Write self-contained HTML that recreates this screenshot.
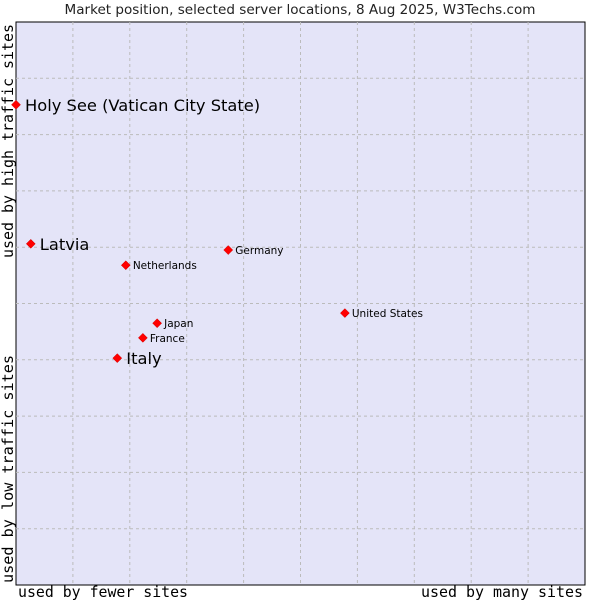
<!DOCTYPE html>
<html><head><meta charset="utf-8"><style>
body{margin:0;background:#fff;width:600px;height:600px;overflow:hidden}
svg{display:block}
</style></head><body>
<svg id="chart" width="600" height="600" xmlns="http://www.w3.org/2000/svg">
<text x="300" y="14" text-anchor="middle" font-family="DejaVu Sans, sans-serif" font-size="13.5" textLength="471" lengthAdjust="spacingAndGlyphs" fill="#222">Market position, selected server locations, 8 Aug 2025, W3Techs.com</text>
<rect x="16" y="22" width="569" height="563" fill="#e4e4f8" stroke="#000" stroke-width="1"/>
<g id="grid"></g>
<g id="points"></g>
<text x="18" y="597" font-family="DejaVu Sans Mono, monospace" font-size="15" textLength="170" lengthAdjust="spacingAndGlyphs" fill="#000">used by fewer sites</text>
<text x="421" y="597" font-family="DejaVu Sans Mono, monospace" font-size="15" textLength="162" lengthAdjust="spacingAndGlyphs" fill="#000">used by many sites</text>
<text transform="translate(13,258) rotate(-90)" font-family="DejaVu Sans Mono, monospace" font-size="15" textLength="234" lengthAdjust="spacingAndGlyphs" fill="#000">used by high traffic sites</text>
<text transform="translate(13,583) rotate(-90)" font-family="DejaVu Sans Mono, monospace" font-size="15" textLength="228" lengthAdjust="spacingAndGlyphs" fill="#000">used by low traffic sites</text>
</svg>
<script>
const countries=["Holy See (Vatican City State)","Latvia","Netherlands","Germany","United States","Japan","France","Italy"];
const xValues=[0,2.6,19.3,37.3,57.8,24.8,22.3,17.8];
const yValues=[85.3,60.6,56.8,59.5,48.3,46.5,43.9,40.3];
const bigLabel=[true,true,false,false,false,false,false,true];
const gridTicks=[10,20,30,40,50,60,70,80,90];
const NS="http://www.w3.org/2000/svg";
const L=16,T=22,W=569,H=563;
const xs=v=>L+v/100*W, ys=v=>T+H-v/100*H;
const grid=document.getElementById('grid'), pts=document.getElementById('points');
gridTicks.forEach(t=>{
  const a=document.createElementNS(NS,'line');
  
  
  a.setAttribute('x1',xs(t));a.setAttribute('x2',xs(t));a.setAttribute('y1',T);a.setAttribute('y2',T+H);
  a.setAttribute('stroke','#bbb');a.setAttribute('stroke-dasharray','3,3');grid.appendChild(a);
  const b=document.createElementNS(NS,'line');
  
  
  b.setAttribute('y1',ys(t));b.setAttribute('y2',ys(t));b.setAttribute('x1',L);b.setAttribute('x2',L+W);
  b.setAttribute('stroke','#bbb');b.setAttribute('stroke-dasharray','3,3');grid.appendChild(b);
});
countries.forEach((c,i)=>{
  const x=xs(xValues[i]),y=ys(yValues[i]);
  const d=document.createElementNS(NS,'path');
  
  
  d.setAttribute('d',`M${x} ${y-4.5}L${x+4.5} ${y}L${x} ${y+4.5}L${x-4.5} ${y}Z`);
  d.setAttribute('fill','#f00');d.setAttribute('stroke','#c00');d.setAttribute('stroke-width','0.5');
  pts.appendChild(d);
  const t=document.createElementNS(NS,'text');
  
  
  t.setAttribute('x',x+(bigLabel[i]?9:7));
  t.setAttribute('y',y+(bigLabel[i]?6:4));
  t.setAttribute('font-family','DejaVu Sans, sans-serif');
  t.setAttribute('font-size',bigLabel[i]?'16.3':'10.5');
  t.setAttribute('fill','#000');
  t.textContent=c;pts.appendChild(t);
});
</script>
</body></html>
